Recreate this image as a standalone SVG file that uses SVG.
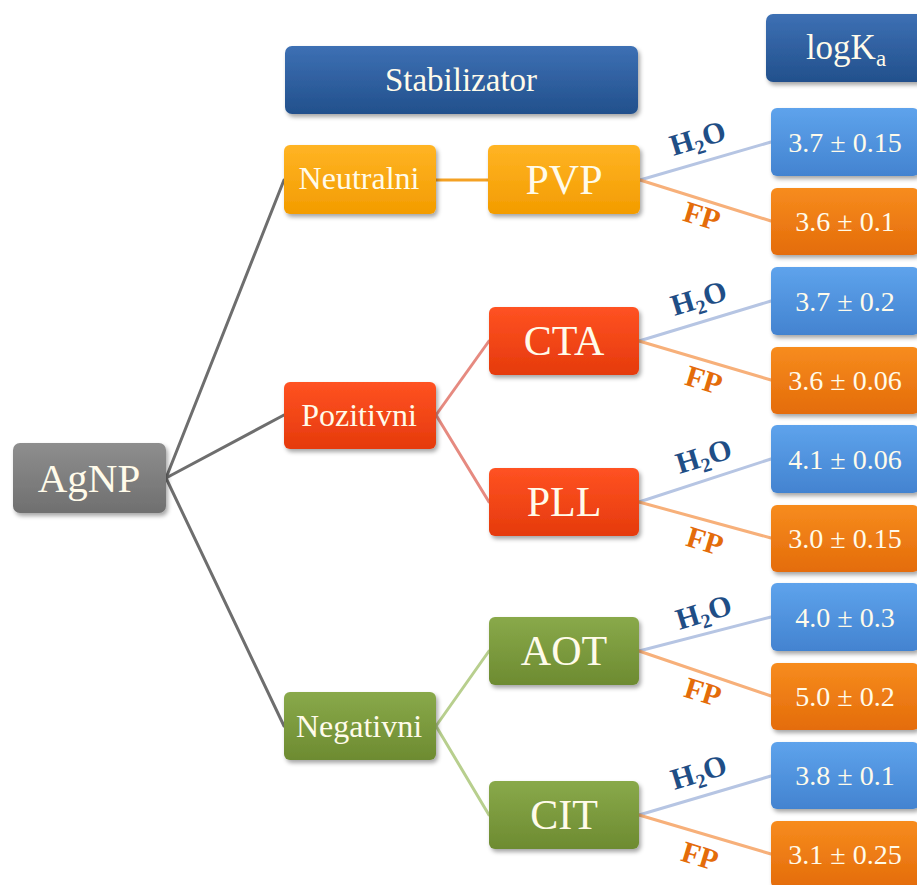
<svg xmlns="http://www.w3.org/2000/svg" width="917" height="885" viewBox="0 0 917 885">
<defs>
  <linearGradient id="gHead" x1="0" y1="0" x2="0" y2="1"><stop offset="0" stop-color="#3d70b4"/><stop offset="1" stop-color="#22508c"/></linearGradient>
  <linearGradient id="gYel" x1="0" y1="0" x2="0" y2="1"><stop offset="0" stop-color="#ffb424"/><stop offset="1" stop-color="#f39c00"/></linearGradient>
  <linearGradient id="gRed" x1="0" y1="0" x2="0" y2="1"><stop offset="0" stop-color="#ff5222"/><stop offset="1" stop-color="#e53a0c"/></linearGradient>
  <linearGradient id="gGrn" x1="0" y1="0" x2="0" y2="1"><stop offset="0" stop-color="#89a94a"/><stop offset="1" stop-color="#6d8b31"/></linearGradient>
  <linearGradient id="gGry" x1="0" y1="0" x2="0" y2="1"><stop offset="0" stop-color="#8e8e8e"/><stop offset="1" stop-color="#6f6f6f"/></linearGradient>
  <linearGradient id="gBlu" x1="0" y1="0" x2="0" y2="1"><stop offset="0" stop-color="#5ea3ec"/><stop offset="1" stop-color="#4383d0"/></linearGradient>
  <linearGradient id="gOrg" x1="0" y1="0" x2="0" y2="1"><stop offset="0" stop-color="#f78c1e"/><stop offset="1" stop-color="#e46c0a"/></linearGradient>
  <filter id="sh" x="-10%" y="-20%" width="125%" height="150%">
    <feDropShadow dx="2" dy="3" stdDeviation="2" flood-color="#000" flood-opacity="0.35"/>
  </filter>
</defs>
<style>
  .box { filter: url(#sh); }
  .t { font-family: "Liberation Serif", "Times New Roman", serif; fill: #fffbea; text-anchor: middle; }
  .lbl { font-family: "Liberation Serif", "Times New Roman", serif; font-weight: bold; text-anchor: middle; font-size: 30px; }
  .h2o { fill: #1f4e86; }
  .fp { fill: #e46c0a; }
  .c { fill: none; stroke-width: 3; stroke-linecap: round; }
  .cg { stroke: #6e6e6e; }
  .cy { stroke: #f4a124; }
  .cr { stroke: #e68a80; }
  .cgr { stroke: #b8cf8e; }
  .cb { stroke: #b6c5e3; }
  .co { stroke: #f7b07a; }
</style>

<g id="connectors">
  <line class="c cg" x1="166" y1="478" x2="284" y2="180"/>
  <line class="c cg" x1="166" y1="478" x2="284" y2="415"/>
  <line class="c cg" x1="166" y1="478" x2="284" y2="726"/>
  <line class="c cy" x1="436" y1="180" x2="488" y2="180"/>
  <line class="c cr" x1="436" y1="415" x2="489" y2="341"/>
  <line class="c cr" x1="436" y1="415" x2="489" y2="502"/>
  <line class="c cgr" x1="436" y1="726" x2="489" y2="651"/>
  <line class="c cgr" x1="436" y1="726" x2="489" y2="815"/>
  <line class="c cb" x1="640" y1="180" x2="771" y2="142"/>
  <line class="c co" x1="640" y1="180" x2="771" y2="221"/>
  <line class="c cb" x1="639" y1="341" x2="771" y2="301"/>
  <line class="c co" x1="639" y1="341" x2="771" y2="380"/>
  <line class="c cb" x1="639" y1="502" x2="771" y2="459"/>
  <line class="c co" x1="639" y1="502" x2="771" y2="538"/>
  <line class="c cb" x1="639" y1="651" x2="771" y2="617"/>
  <line class="c co" x1="639" y1="651" x2="771" y2="696"/>
  <line class="c cb" x1="639" y1="815" x2="771" y2="776"/>
  <line class="c co" x1="639" y1="815" x2="771" y2="854"/>
</g>

<g id="edge-labels">
  <text class="lbl h2o" transform="translate(698,139) rotate(-17)" y="9">H<tspan font-size="20" dy="6">2</tspan><tspan dy="-6">O</tspan></text>
  <text class="lbl fp" transform="translate(702,216) rotate(17)" y="10">FP</text>
  <text class="lbl h2o" transform="translate(699,299) rotate(-17)" y="9">H<tspan font-size="20" dy="6">2</tspan><tspan dy="-6">O</tspan></text>
  <text class="lbl fp" transform="translate(704,380) rotate(17)" y="10">FP</text>
  <text class="lbl h2o" transform="translate(704,457) rotate(-17)" y="9">H<tspan font-size="20" dy="6">2</tspan><tspan dy="-6">O</tspan></text>
  <text class="lbl fp" transform="translate(705,541) rotate(17)" y="10">FP</text>
  <text class="lbl h2o" transform="translate(704,613) rotate(-17)" y="9">H<tspan font-size="20" dy="6">2</tspan><tspan dy="-6">O</tspan></text>
  <text class="lbl fp" transform="translate(703,692) rotate(17)" y="10">FP</text>
  <text class="lbl h2o" transform="translate(699,773) rotate(-17)" y="9">H<tspan font-size="20" dy="6">2</tspan><tspan dy="-6">O</tspan></text>
  <text class="lbl fp" transform="translate(700,856) rotate(17)" y="10">FP</text>
</g>

<g id="hdr-stabilizator"><rect class="box" x="285" y="46" width="353" height="68" rx="7" fill="url(#gHead)"/><text class="t" x="461" y="91" font-size="33">Stabilizator</text></g>
<g id="hdr-logka"><rect class="box" x="766" y="14" width="164" height="68" rx="7" fill="url(#gHead)"/><text class="t" x="846" y="59" font-size="35">logK<tspan font-size="23" dy="7">a</tspan></text></g>

<g id="n-agnp"><rect class="box" x="13" y="443" width="153" height="70" rx="7" fill="url(#gGry)"/><text class="t" x="89" y="492" font-size="41">AgNP</text></g>

<g id="n-neutralni"><rect class="box" x="284" y="145" width="152" height="69" rx="6" fill="url(#gYel)"/><text class="t" x="359" y="189" font-size="32">Neutralni</text></g>
<g id="n-pozitivni"><rect class="box" x="284" y="382" width="152" height="67" rx="6" fill="url(#gRed)"/><text class="t" x="359" y="426" font-size="32">Pozitivni</text></g>
<g id="n-negativni"><rect class="box" x="284" y="692" width="152" height="68" rx="6" fill="url(#gGrn)"/><text class="t" x="359" y="737" font-size="32">Negativni</text></g>

<g id="n-pvp"><rect class="box" x="488" y="145" width="152" height="69" rx="6" fill="url(#gYel)"/><text class="t" x="564" y="194" font-size="42">PVP</text></g>
<g id="n-cta"><rect class="box" x="489" y="307" width="150" height="68" rx="6" fill="url(#gRed)"/><text class="t" x="564" y="355" font-size="42">CTA</text></g>
<g id="n-pll"><rect class="box" x="489" y="468" width="150" height="68" rx="6" fill="url(#gRed)"/><text class="t" x="564" y="516" font-size="42">PLL</text></g>
<g id="n-aot"><rect class="box" x="489" y="617" width="150" height="68" rx="6" fill="url(#gGrn)"/><text class="t" x="564" y="665" font-size="42">AOT</text></g>
<g id="n-cit"><rect class="box" x="489" y="781" width="150" height="68" rx="6" fill="url(#gGrn)"/><text class="t" x="564" y="829" font-size="42">CIT</text></g>

<g id="v-pvp-h2o"><rect class="box" x="771" y="108" width="148" height="68" rx="6" fill="url(#gBlu)"/><text class="t" x="845" y="152" font-size="28">3.7 ± 0.15</text></g>
<g id="v-pvp-fp"><rect class="box" x="771" y="188" width="148" height="67" rx="6" fill="url(#gOrg)"/><text class="t" x="845" y="231" font-size="28">3.6 ± 0.1</text></g>
<g id="v-cta-h2o"><rect class="box" x="771" y="267" width="148" height="68" rx="6" fill="url(#gBlu)"/><text class="t" x="845" y="311" font-size="28">3.7 ± 0.2</text></g>
<g id="v-cta-fp"><rect class="box" x="771" y="347" width="148" height="67" rx="6" fill="url(#gOrg)"/><text class="t" x="845" y="390" font-size="28">3.6 ± 0.06</text></g>
<g id="v-pll-h2o"><rect class="box" x="771" y="425" width="148" height="68" rx="6" fill="url(#gBlu)"/><text class="t" x="845" y="469" font-size="28">4.1 ± 0.06</text></g>
<g id="v-pll-fp"><rect class="box" x="771" y="505" width="148" height="67" rx="6" fill="url(#gOrg)"/><text class="t" x="845" y="548" font-size="28">3.0 ± 0.15</text></g>
<g id="v-aot-h2o"><rect class="box" x="771" y="583" width="148" height="68" rx="6" fill="url(#gBlu)"/><text class="t" x="845" y="627" font-size="28">4.0 ± 0.3</text></g>
<g id="v-aot-fp"><rect class="box" x="771" y="663" width="148" height="67" rx="6" fill="url(#gOrg)"/><text class="t" x="845" y="706" font-size="28">5.0 ± 0.2</text></g>
<g id="v-cit-h2o"><rect class="box" x="771" y="742" width="148" height="67" rx="6" fill="url(#gBlu)"/><text class="t" x="845" y="785" font-size="28">3.8 ± 0.1</text></g>
<g id="v-cit-fp"><rect class="box" x="771" y="821" width="148" height="67" rx="6" fill="url(#gOrg)"/><text class="t" x="845" y="864" font-size="28">3.1 ± 0.25</text></g>
</svg>
